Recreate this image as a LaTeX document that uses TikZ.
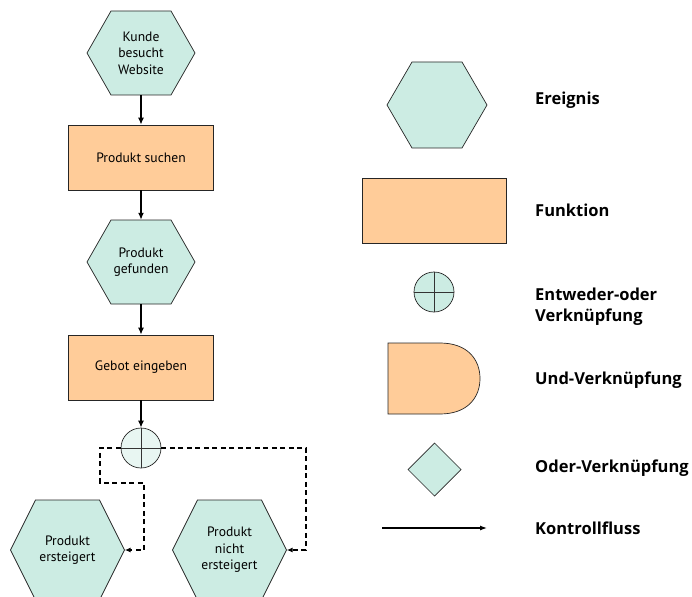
\documentclass[tikz,border=0pt]{standalone}
\usepackage{fontspec}
\setmainfont{PT Sans}
\newfontfamily\lblfont{Open Sans}
\usetikzlibrary{arrows.meta}
\definecolor{evtc}{HTML}{CCECE3}
\definecolor{xorc}{HTML}{E8F6F2}
\definecolor{func}{HTML}{FFCC99}
\tikzset{
  shapeline/.style={draw=black!85, line width=0.7pt},
  evtnode/.style={inner sep=0pt, align=center, font=\fontsize{13.6}{16.5}\selectfont},
  funcbox/.style={shapeline, fill=func, minimum width=145pt, minimum height=65pt, inner sep=0pt, font=\fontsize{13.6}{16.5}\selectfont},
  flow/.style={line width=1.4pt, -{Latex[length=7pt,width=6pt]}},
  dflow/.style={line width=1.3pt, dash pattern=on 5pt off 3.5pt, -{Latex[length=6pt,width=5pt]}},
  lbl/.style={anchor=west, align=left, inner sep=0pt, font=\lblfont\fontsize{16.5}{21}\bfseries\selectfont}
}
% name, cx, cy, half width, half height, half top edge, text
\newcommand\evtshape[7]{%
  \filldraw[shapeline, fill=evtc] (#2-#4,#3) -- (#2-#6,#3-#5) -- (#2+#6,#3-#5) -- (#2+#4,#3) -- (#2+#6,#3+#5) -- (#2-#6,#3+#5) -- cycle;
  \node[evtnode, minimum width={2*#4pt}, minimum height={2*#5pt}] (#1) at (#2,#3) {#7};%
}
\begin{document}
\begin{tikzpicture}[x=1pt,y=-1pt]
\useasboundingbox (0,0) rectangle (692,596);
% flow chart
\evtshape{e1}{141}{53}{54}{42}{30}{Kunde\\besucht\\Website}
\node[funcbox] (f1) at (141,157.5) {Produkt suchen};
\evtshape{e2}{141}{262}{54}{42}{30}{Produkt\\gefunden}
\node[funcbox] (f2) at (141,367.5) {Gebot eingeben};
\node[circle, shapeline, fill=xorc, minimum size=40pt, inner sep=0pt] (x) at (141,448) {};
\draw[line width=0.9pt, black!80] (x.north) -- (x.south) (x.west) -- (x.east);
\evtshape{e3}{67.5}{550}{57}{50}{32}{Produkt\\ersteigert}
\evtshape{e4}{229.5}{550}{57}{50}{32}{Produkt\\nicht\\ersteigert}
\draw[flow] (e1) -- (f1);
\draw[flow] (f1) -- (e2);
\draw[flow] (e2) -- (f2);
\draw[flow] (f2) -- (x);
\draw[dflow] (x.west) -- (100,448) -- (100,483) -- (144,483) -- (144,550) -- (e3.east);
\draw[dflow] (x.east) -- (306,448) -- (306,550) -- (e4.east);
% legend
\evtshape{le}{437}{105}{50}{43}{25}{}
\node[lbl] (lt1) at (535,100) {Ereignis};
\node[funcbox, minimum width=144pt] (lf) at (434,210.5) {};
\node[lbl] (lt2) at (535,210) {Funktion};
\node[circle, shapeline, fill=evtc, minimum size=40pt, inner sep=0pt] (lx) at (434,292) {};
\draw[line width=0.9pt, black!80] (lx.north) -- (lx.south) (lx.west) -- (lx.east);
\node[lbl] (lt3) at (535,307) {Entweder-oder\\Verknüpfung};
\filldraw[shapeline, fill=func] (388,343) -- (440,343) .. controls (468,343) and (480,360) .. (480,378.5) .. controls (480,397) and (468,414) .. (440,414) -- (388,414) -- cycle;
\node[inner sep=0pt, minimum width=92pt, minimum height=71pt] (lu) at (434,378.5) {};
\node[lbl] (lt4) at (535,380) {Und-Verknüpfung};
\filldraw[shapeline, fill=evtc] (408,469.5) -- (434.5,443) -- (461,469.5) -- (434.5,496) -- cycle;
\node[inner sep=0pt, minimum size=53pt] (lo) at (434.5,469.5) {};
\node[lbl] (lt5) at (535,468) {Oder-Verknüpfung};
\coordinate (ka) at (382,528);
\coordinate (kb) at (487,528);
\draw[line width=1.2pt, -{Latex[length=7pt,width=5pt]}] (ka) -- (kb);
\node[lbl] (lt6) at (535,528) {Kontrollfluss};
\end{tikzpicture}
\end{document}
